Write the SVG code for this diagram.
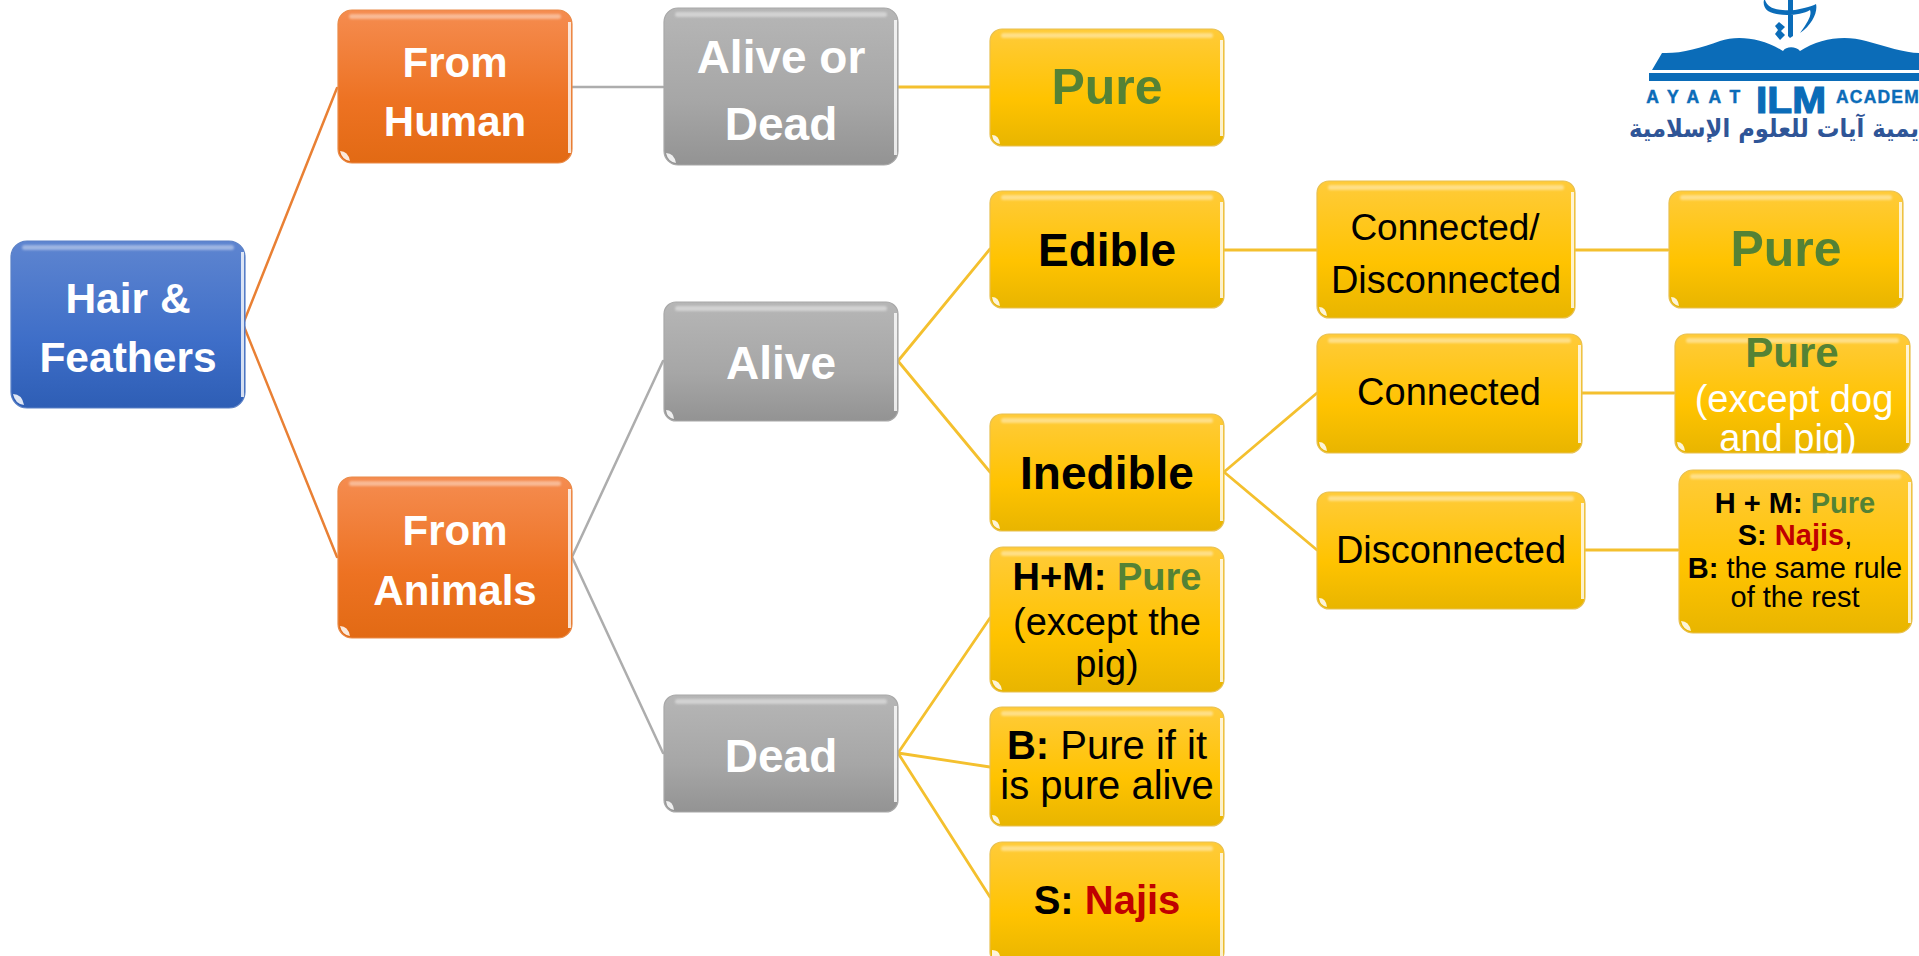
<svg xmlns="http://www.w3.org/2000/svg" width="1919" height="956" viewBox="0 0 1919 956">
<style>
text{font-family:"Liberation Sans",Arial,sans-serif;text-anchor:middle}
.b{font-weight:700}
.w{fill:#fff}
.k{fill:#000}
.g{fill:#548235;font-weight:700}
.r{fill:#c00000;font-weight:700}
.box{stroke-width:1.2}
.blue{fill:url(#gb);stroke:#5a80c6}
.org{fill:url(#go);stroke:#e98a48}
.gry{fill:url(#gg);stroke:#a8a8a8}
.gld{fill:url(#gy);stroke:#e8c050}
.hl{fill:#fff;opacity:.4;filter:url(#soft)}
.hs{fill:#fff;opacity:.8;filter:url(#soft2)}
.gl{fill:#fff;opacity:.85}
.c{fill:none;stroke-linecap:round}
.co{stroke:#e98034;stroke-width:2.5}
.cg{stroke:#adadad;stroke-width:2.5}
.cy{stroke:#f4c02e;stroke-width:2.8}
.logo{fill:#0b6cb8}
</style>
<defs>
<filter id="soft" x="-10%" y="-60%" width="120%" height="220%"><feGaussianBlur stdDeviation="1.2"/></filter>
<filter id="soft2" x="-100%" y="-5%" width="300%" height="110%"><feGaussianBlur stdDeviation=".6"/></filter>
<linearGradient id="gb" x1="0" y1="0" x2="0" y2="1"><stop offset="0" stop-color="#5e85d0"/><stop offset=".6" stop-color="#3e6ec8"/><stop offset="1" stop-color="#2e5eb5"/></linearGradient>
<linearGradient id="go" x1="0" y1="0" x2="0" y2="1"><stop offset="0" stop-color="#f58c50"/><stop offset=".6" stop-color="#ed7222"/><stop offset="1" stop-color="#e26a14"/></linearGradient>
<linearGradient id="gg" x1="0" y1="0" x2="0" y2="1"><stop offset="0" stop-color="#b6b6b6"/><stop offset=".6" stop-color="#a6a6a6"/><stop offset="1" stop-color="#939393"/></linearGradient>
<linearGradient id="gy" x1="0" y1="0" x2="0" y2="1"><stop offset="0" stop-color="#ffcb3a"/><stop offset=".6" stop-color="#ffc300"/><stop offset="1" stop-color="#e8b500"/></linearGradient>
</defs>
<g id="connectors">
<path class="c co" d="M243 324L337 88M243 324L337 557"/>
<path class="c cg" d="M572 87H663M572 557L663 361M572 557L663 753"/>
<path class="c cy" d="M898 87H990M898 361L990 249M898 361L990 472M1224 250H1317M1575 250H1668M1224 472L1317 393M1224 472L1317 550M1582 393H1674M1585 550H1678M898 753L990 618M898 753L990 767M898 753L990 897"/>
</g>
<g id="hair"><rect class="box blue" x="11" y="241" width="234" height="167" rx="16"/><rect class="hl" x="22" y="245" width="212" height="5" rx="2.5"/><rect class="hs" x="241" y="252" width="3" height="145"/><path class="gl" d="M13 394q9 0 11 11q-9-1-11-11z"/><text class="b w" font-size="42.5" x="128" y="313">Hair &amp;</text><text class="b w" font-size="42.5" x="128" y="372">Feathers</text></g>
<g id="from-human"><rect class="box org" x="338" y="10" width="234" height="153" rx="14"/><rect class="hl" x="349" y="14" width="212" height="5" rx="2.5"/><rect class="hs" x="568" y="22" width="3" height="131"/><path class="gl" d="M340 151q8 0 10 10q-8-1-10-10z"/><text class="b w" font-size="42" x="455" y="77">From</text><text class="b w" font-size="42" x="455" y="136">Human</text></g>
<g id="alive-or-dead"><rect class="box gry" x="664" y="8" width="234" height="157" rx="14"/><rect class="hl" x="675" y="12" width="212" height="5" rx="2.5"/><rect class="hs" x="894" y="20" width="3" height="135"/><path class="gl" d="M666 153q8 0 10 10q-8-1-10-10z"/><text class="b w" font-size="46" x="781" y="73">Alive or</text><text class="b w" font-size="46" x="781" y="140">Dead</text></g>
<g id="pure-1"><rect class="box gld" x="990" y="29" width="234" height="117" rx="12"/><rect class="hl" x="1001" y="33" width="212" height="5" rx="2.5"/><rect class="hs" x="1220" y="40" width="3" height="96"/><path class="gl" d="M992 135q7 0 8 9q-7-1-8-9z"/><text class="g" font-size="50" x="1107" y="104">Pure</text></g>
<g id="edible"><rect class="box gld" x="990" y="191" width="234" height="117" rx="12"/><rect class="hl" x="1001" y="195" width="212" height="5" rx="2.5"/><rect class="hs" x="1220" y="202" width="3" height="96"/><path class="gl" d="M992 297q7 0 8 9q-7-1-8-9z"/><text class="b k" font-size="46" x="1107" y="266">Edible</text></g>
<g id="connected-disconnected"><rect class="box gld" x="1317" y="181" width="258" height="137" rx="12"/><rect class="hl" x="1328" y="185" width="236" height="5" rx="2.5"/><rect class="hs" x="1571" y="192" width="3" height="116"/><path class="gl" d="M1319 307q7 0 8 9q-7-1-8-9z"/><text class="k" font-size="37" x="1445" y="240">Connected/</text><text class="k" font-size="38" x="1446" y="293">Disconnected</text></g>
<g id="pure-2"><rect class="box gld" x="1669" y="191" width="234" height="117" rx="12"/><rect class="hl" x="1680" y="195" width="212" height="5" rx="2.5"/><rect class="hs" x="1899" y="202" width="3" height="96"/><path class="gl" d="M1671 297q7 0 8 9q-7-1-8-9z"/><text class="g" font-size="50" x="1786" y="266">Pure</text></g>
<g id="connected"><rect class="box gld" x="1317" y="334" width="265" height="119" rx="12"/><rect class="hl" x="1328" y="338" width="243" height="5" rx="2.5"/><rect class="hs" x="1578" y="345" width="3" height="98"/><path class="gl" d="M1319 442q7 0 8 9q-7-1-8-9z"/><text class="k" font-size="38" x="1449" y="405">Connected</text></g>
<g id="pure-except"><rect class="box gld" x="1675" y="334" width="235" height="119" rx="12"/><rect class="hl" x="1686" y="338" width="213" height="5" rx="2.5"/><rect class="hs" x="1906" y="345" width="3" height="98"/><path class="gl" d="M1677 442q7 0 8 9q-7-1-8-9z"/><text class="g" font-size="42" x="1792" y="367">Pure</text><text class="w" font-size="38" x="1794" y="412">(except dog</text><text class="w" font-size="38" x="1788" y="451">and pig)</text></g>
<g id="disconnected"><rect class="box gld" x="1317" y="492" width="268" height="117" rx="12"/><rect class="hl" x="1328" y="496" width="246" height="5" rx="2.5"/><rect class="hs" x="1581" y="503" width="3" height="96"/><path class="gl" d="M1319 598q7 0 8 9q-7-1-8-9z"/><text class="k" font-size="38" x="1451" y="563">Disconnected</text></g>
<g id="rule"><rect class="box gld" x="1679" y="470" width="233" height="163" rx="14"/><rect class="hl" x="1690" y="474" width="211" height="5" rx="2.5"/><rect class="hs" x="1908" y="482" width="3" height="141"/><path class="gl" d="M1681 621q8 0 10 10q-8-1-10-10z"/><text font-size="29" x="1795" y="513"><tspan class="b">H + M: </tspan><tspan class="g">Pure</tspan></text><text font-size="29" x="1795" y="545"><tspan class="b">S: </tspan><tspan class="r">Najis</tspan><tspan>,</tspan></text><text font-size="29" x="1795" y="578"><tspan class="b">B:</tspan> the same rule</text><text font-size="29" x="1795" y="607">of the rest</text></g>
<g id="inedible"><rect class="box gld" x="990" y="414" width="234" height="117" rx="12"/><rect class="hl" x="1001" y="418" width="212" height="5" rx="2.5"/><rect class="hs" x="1220" y="425" width="3" height="96"/><path class="gl" d="M992 520q7 0 8 9q-7-1-8-9z"/><text class="b k" font-size="46" x="1107" y="489">Inedible</text></g>
<g id="from-animals"><rect class="box org" x="338" y="477" width="234" height="161" rx="14"/><rect class="hl" x="349" y="481" width="212" height="5" rx="2.5"/><rect class="hs" x="568" y="489" width="3" height="139"/><path class="gl" d="M340 626q8 0 10 10q-8-1-10-10z"/><text class="b w" font-size="42" x="455" y="545">From</text><text class="b w" font-size="42" x="455" y="605">Animals</text></g>
<g id="alive"><rect class="box gry" x="664" y="302" width="234" height="119" rx="12"/><rect class="hl" x="675" y="306" width="212" height="5" rx="2.5"/><rect class="hs" x="894" y="313" width="3" height="98"/><path class="gl" d="M666 410q7 0 8 9q-7-1-8-9z"/><text class="b w" font-size="46" x="781" y="379">Alive</text></g>
<g id="dead"><rect class="box gry" x="664" y="695" width="234" height="117" rx="12"/><rect class="hl" x="675" y="699" width="212" height="5" rx="2.5"/><rect class="hs" x="894" y="706" width="3" height="96"/><path class="gl" d="M666 801q7 0 8 9q-7-1-8-9z"/><text class="b w" font-size="46" x="781" y="772">Dead</text></g>
<g id="hm-pure"><rect class="box gld" x="990" y="547" width="234" height="145" rx="13"/><rect class="hl" x="1001" y="551" width="212" height="5" rx="2.5"/><rect class="hs" x="1220" y="559" width="3" height="123"/><path class="gl" d="M992 680q8 0 10 10q-8-1-10-10z"/><text font-size="38" x="1107" y="590"><tspan class="b">H+M: </tspan><tspan class="g">Pure</tspan></text><text class="k" font-size="38" x="1107" y="635">(except the</text><text class="k" font-size="38" x="1107" y="677">pig)</text></g>
<g id="b-pure"><rect class="box gld" x="990" y="707" width="234" height="119" rx="12"/><rect class="hl" x="1001" y="711" width="212" height="5" rx="2.5"/><rect class="hs" x="1220" y="718" width="3" height="98"/><path class="gl" d="M992 815q7 0 8 9q-7-1-8-9z"/><text font-size="40" x="1107" y="759"><tspan class="b">B:</tspan> Pure if it</text><text class="k" font-size="40" x="1107" y="799">is pure alive</text></g>
<g id="s-najis"><rect class="box gld" x="990" y="842" width="234" height="122" rx="12"/><rect class="hl" x="1001" y="846" width="212" height="5" rx="2.5"/><rect class="hs" x="1220" y="853" width="3" height="103"/><path class="gl" d="M992 950q7 0 8 6h-8z"/><text font-size="40" x="1107" y="914"><tspan class="b">S: </tspan><tspan class="r">Najis</tspan></text></g>
<g id="logo">
<path class="logo" d="M1652 70L1662 53C1680 54 1700 48 1720 41C1738 35 1762 38 1783 51C1786 46 1796 46 1800 51C1820 38 1845 35 1866 41C1885 46 1905 53 1919 53V70Z"/>
<rect class="logo" x="1649" y="73" width="270" height="8"/>
<path d="M1765 0C1768 8 1775 11 1795 10C1805 8 1813 6 1816 4C1818 12 1812 25 1800 33C1808 22 1812 15 1810 10C1800 16 1778 17 1768 11C1764 8 1763 3 1764 0ZM1788 0H1793V36L1790 38L1788 36ZM1779 22L1785 27L1781 31L1785 35L1780 40L1775 34L1778 30L1775 26Z" class="logo"/>
<text class="logo b" font-size="17.5" x="1698" y="103" letter-spacing="9.5" stroke="#0b6cb8" stroke-width=".5">AYAAT</text>
<text class="logo b" font-size="36" x="1791" y="113" textLength="70" lengthAdjust="spacingAndGlyphs" stroke="#0b6cb8" stroke-width="1.2">ILM</text>
<text class="logo b" font-size="17.5" x="1836" y="103" style="text-anchor:start" letter-spacing="1.2" stroke="#0b6cb8" stroke-width=".4">ACADEM</text>
<text direction="rtl" font-size="25" x="1919" y="137" style="text-anchor:start;font-family:'DejaVu Sans',sans-serif" font-weight="700" fill="#2f5597" textLength="290" lengthAdjust="spacingAndGlyphs">يمية آيات للعلوم الإسلامية</text>
</g>
</svg>
